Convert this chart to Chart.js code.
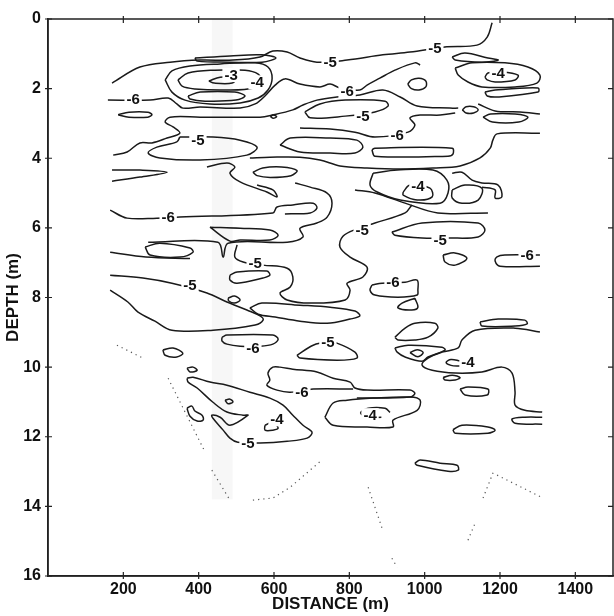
<!DOCTYPE html>
<html>
<head>
<meta charset="utf-8">
<script src="https://cdn.jsdelivr.net/npm/chart.js@4.4.1/dist/chart.umd.min.js"></script>
<style>
  html, body { margin: 0; padding: 0; background: #fff; }
  #wrap { width: 614px; height: 616px; }
</style>
</head>
<body>
<div id="wrap"><canvas id="contourCanvas" width="614" height="616"></canvas></div>
<script>
// axis ticks
const xTicks = [200, 400, 600, 800, 1000, 1200, 1400];
const yTicks = [0, 2, 4, 6, 8, 10, 12, 14, 16];

// contour lines, [distance m, depth m]
const c1 = [[170,1.84],[244,1.38],[324,1.24],[404,1.18],[491,1.18],[563,1.09],[597,0.92],[635,0.95],[669,1.12],[714,1.24],[794,1.18],[889,1.03],[961,0.95],[1059,0.80],[1139,0.75],[1166,0.52],[1179,0.11]];
const c2 = [[390,1.12],[483,1.06],[568,1.03],[605,1.12],[568,1.24],[483,1.24],[396,1.21],[390,1.12]];
const c3 = [[311,1.75],[329,1.49],[377,1.35],[457,1.29],[550,1.26],[584,1.38],[595,1.70],[584,2.04],[558,2.27],[510,2.41],[430,2.44],[364,2.33],[329,2.10],[311,1.75]];
const c4 = [[345,1.75],[372,1.55],[443,1.47],[523,1.47],[558,1.58],[566,1.78],[547,1.98],[470,2.04],[390,2.01],[356,1.93],[345,1.75]];
const c5 = [[427,1.78],[457,1.67],[499,1.70],[489,1.84],[441,1.84],[427,1.78]];
const c6 = [[372,2.21],[404,2.10],[496,2.10],[523,2.21],[499,2.33],[417,2.36],[377,2.30],[372,2.21]];
const c7 = [[159,2.33],[271,2.33],[319,2.27],[342,2.44],[358,2.56],[404,2.53],[510,2.56],[550,2.44],[576,2.21],[603,1.90],[629,1.72],[669,1.87],[722,1.95],[749,1.87],[775,1.98],[828,2.04],[847,1.90],[881,1.70],[921,1.47],[974,1.26],[988,1.32]];
const c8 = [[955,1.87],[965,1.75],[985,1.70],[1003,1.78],[1003,1.95],[985,2.04],[965,2.00],[955,1.87]];
const c9 = [[173,3.91],[210,3.82],[244,3.56],[276,3.56],[316,3.42],[350,3.28],[332,3.10],[311,2.96],[324,2.82],[404,2.82],[491,2.82],[563,2.82],[595,2.76],[650,2.61],[677,2.47],[714,2.33],[767,2.24],[828,2.18],[889,2.04],[935,2.24],[980,2.50],[1067,2.56],[1089,2.56]];
const c10 = [[1142,2.44],[1187,2.64],[1253,2.67],[1306,2.73]];
const c11 = [[1100,2.61],[1110,2.52],[1130,2.52],[1142,2.61],[1130,2.70],[1110,2.70],[1100,2.61]];
const c12 = [[1155,2.82],[1175,2.73],[1240,2.73],[1274,2.82],[1250,2.96],[1180,2.96],[1155,2.82]];
const c13 = [[186,2.75],[215,2.68],[265,2.68],[276,2.75],[265,2.82],[215,2.82],[186,2.75]];
const c14 = [[590,2.80],[598,2.76],[607,2.80],[598,2.85],[590,2.80]];
const c15 = [[350,3.39],[438,3.39],[510,3.48],[555,3.68],[528,3.91],[404,4.05],[297,3.99],[266,3.85],[289,3.68],[342,3.53],[350,3.39]];
const c16 = [[682,2.67],[722,2.44],[789,2.33],[895,2.36],[903,2.50],[868,2.67],[789,2.79],[696,2.84],[682,2.67]];
const c17 = [[669,3.13],[749,3.16],[815,3.25],[868,3.39],[956,3.25],[974,3.05],[961,2.84],[988,2.76],[1041,2.76],[1081,2.70]];
const c18 = [[616,3.62],[643,3.42],[749,3.42],[820,3.48],[836,3.68],[815,3.85],[749,3.85],[669,3.82],[616,3.62]];
const c19 = [[860,3.76],[868,3.71],[1073,3.71],[1075,3.88],[1062,3.94],[868,3.94],[860,3.76]];
const c20 = [[1306,3.28],[1192,3.30],[1181,3.48],[1174,3.71],[1147,3.99],[1094,4.22],[1022,4.28],[935,4.31],[847,4.28],[775,4.22],[722,4.05],[669,3.97],[589,3.97],[536,3.99]];
const c21 = [[170,4.34],[244,4.34],[316,4.40],[244,4.54],[170,4.66]];
const c22 = [[422,4.25],[475,4.14],[496,4.25],[483,4.43],[510,4.68],[581,4.97],[608,5.11],[597,4.91],[555,4.77]];
const c23 = [[544,4.40],[570,4.28],[620,4.25],[661,4.35],[645,4.50],[590,4.55],[555,4.50],[544,4.40]];
const c24 = [[165,5.49],[210,5.72],[289,5.72],[350,5.69],[597,5.57],[608,5.40],[650,5.34],[704,5.29],[714,5.43],[696,5.57],[629,5.60]];
const c25 = [[430,5.98],[510,6.01],[589,6.06],[611,6.21],[589,6.35],[510,6.35],[483,6.38],[430,5.98]];
const c26 = [[266,6.41],[451,6.41],[465,6.84],[478,6.44],[635,6.41],[677,6.26],[669,6.01],[714,5.86],[741,5.69],[754,5.29],[741,5.00],[696,4.83],[656,4.71]];
const c27 = [[258,6.55],[297,6.44],[377,6.58],[385,6.70],[350,6.84],[271,6.78],[258,6.55]];
const c28 = [[165,6.70],[260,6.84],[377,6.88]];
const c29 = [[502,6.49],[496,6.84],[518,6.98],[571,7.07],[635,7.16],[650,7.41],[643,7.70],[616,7.87],[635,8.07],[696,8.16],[789,8.07],[802,7.79],[794,7.59],[836,7.41],[847,7.13],[802,6.84],[775,6.55],[783,6.24],[820,6.03],[868,5.86],[948,5.57],[966,5.34]];
const c30 = [[863,4.43],[927,4.34],[1022,4.34],[1059,4.63],[1062,5.00],[1041,5.29],[935,5.20],[874,4.97],[855,4.77],[863,4.43]];
const c31 = [[943,4.97],[961,4.77],[1014,4.86],[1020,5.11],[980,5.20],[943,5.06],[943,4.97]];
const c32 = [[815,4.91],[868,5.00],[948,5.29],[1035,5.57],[1168,5.57]];
const c33 = [[1073,4.43],[1099,4.40],[1126,4.63],[1152,4.71],[1195,4.77],[1205,5.11],[1187,5.14],[1187,4.91],[1152,4.83]];
const c34 = [[1073,4.91],[1107,4.77],[1152,4.86],[1142,5.20],[1099,5.29],[1073,5.14],[1073,4.91]];
const c35 = [[913,6.12],[993,5.86],[1142,5.86],[1160,6.06],[1142,6.26],[1062,6.29],[993,6.29],[921,6.21],[913,6.12]];
const c36 = [[1049,6.78],[1080,6.72],[1112,6.87],[1081,7.07],[1054,6.98],[1049,6.78]];
const c37 = [[1306,6.78],[1213,6.78],[1192,6.83],[1187,6.95],[1200,7.10],[1306,7.10]];
const c38 = [[860,7.64],[887,7.59],[948,7.56],[980,7.50],[982,7.79],[980,7.93],[929,7.99],[868,7.93],[855,7.79],[860,7.64]];
const c39 = [[974,8.02],[982,8.28],[966,8.36],[929,8.30],[940,8.16],[974,8.02]];
const c40 = [[1147,8.70],[1195,8.62],[1266,8.65],[1272,8.76],[1240,8.82],[1152,8.82],[1147,8.70]];
const c41 = [[661,9.66],[704,9.37],[743,9.28],[767,9.31],[815,9.57],[820,9.74],[767,9.80],[669,9.74],[661,9.66]];
const c42 = [[921,9.14],[948,8.88],[974,8.74],[1027,8.74],[1035,8.88],[1009,9.14],[974,9.22],[929,9.22],[921,9.14]];
const c43 = [[921,9.45],[956,9.37],[1046,9.43],[1054,9.51],[1009,9.71],[993,9.83],[948,9.71],[927,9.57],[921,9.45]];
const c44 = [[961,9.58],[980,9.50],[996,9.58],[982,9.70],[961,9.58]];
const c45 = [[1306,8.99],[1240,8.88],[1134,8.94],[1099,9.22],[1089,9.45],[1046,9.57],[1009,9.74],[993,9.94],[1020,10.09],[1081,10.17],[1152,10.14],[1205,10.00],[1232,10.17],[1240,10.72],[1240,11.09],[1266,11.24],[1312,11.29]];
const c46 = [[1094,9.82],[1070,9.78],[1057,9.86],[1070,9.95],[1094,9.97]];
const c47 = [[1049,10.30],[1073,10.23],[1094,10.30],[1081,10.37],[1054,10.37],[1049,10.30]];
const c48 = [[1094,10.63],[1115,10.57],[1168,10.63],[1166,10.80],[1107,10.80],[1094,10.63]];
const c49 = [[1312,11.44],[1266,11.44],[1232,11.49],[1240,11.61],[1312,11.64]];
const c50 = [[1075,11.80],[1099,11.67],[1168,11.72],[1187,11.81],[1168,11.90],[1081,11.90],[1075,11.80]];
const c51 = [[810,10.63],[704,10.63],[643,10.72],[608,10.66],[581,10.52],[589,10.37],[584,10.17],[597,10.00],[616,10.00],[650,10.06],[714,10.14],[757,10.32],[802,10.43],[815,10.60],[847,10.66],[961,10.66],[974,10.75],[961,10.86],[820,10.89]];
const c52 = [[735,11.44],[757,11.03],[794,10.95],[863,10.89],[961,10.86],[988,10.95],[980,11.24],[916,11.52],[916,11.72],[847,11.72],[757,11.67],[735,11.44]];
const c53 = [[908,11.30],[895,11.18],[850,11.18],[830,11.32],[850,11.44],[885,11.44]];
const c54 = [[165,7.36],[252,7.44],[329,7.59],[422,7.87],[475,8.13],[528,8.36],[563,8.53],[571,8.65],[550,8.79],[438,8.94],[329,8.94],[284,8.68],[239,8.42],[212,8.13],[165,7.79]];
const c55 = [[478,8.02],[495,7.96],[510,8.07],[495,8.16],[480,8.10],[478,8.02]];
const c56 = [[483,7.36],[502,7.27],[581,7.24],[589,7.36],[571,7.44],[502,7.59],[483,7.50],[483,7.36]];
const c57 = [[536,8.30],[568,8.16],[669,8.22],[749,8.28],[815,8.39],[828,8.53],[802,8.62],[741,8.74],[669,8.68],[603,8.56],[558,8.48],[536,8.30]];
const c58 = [[462,9.14],[475,9.08],[597,9.08],[611,9.20],[597,9.34],[563,9.40],[510,9.40],[475,9.34],[462,9.25],[462,9.14]];
const c59 = [[305,9.51],[332,9.45],[358,9.60],[342,9.71],[311,9.66],[305,9.51]];
const c60 = [[369,10.03],[385,10.00],[396,10.09],[377,10.14],[369,10.03]];
const c61 = [[369,10.32],[385,10.29],[430,10.43],[475,10.52],[536,10.72],[589,10.89],[624,11.09],[650,11.38],[677,11.67],[701,11.87],[688,12.04],[635,12.13],[563,12.18],[504,12.16],[483,12.04],[465,11.81],[438,11.47],[435,11.38],[457,11.44],[483,11.67],[531,11.38],[518,11.38],[475,11.29],[438,11.01],[396,10.60],[372,10.43],[369,10.32]];
const c62 = [[470,10.95],[483,10.92],[491,11.00],[478,11.05],[470,10.95]];
const c63 = [[576,11.67],[597,11.58],[611,11.75],[597,11.81],[576,11.81],[576,11.67]];
const c64 = [[369,11.18],[382,11.12],[390,11.26],[409,11.38],[412,11.52],[396,11.55],[377,11.41],[369,11.18]];
const c65 = [[974,12.76],[988,12.67],[1041,12.76],[1086,12.82],[1089,12.96],[1062,12.99],[980,12.82],[974,12.76]];
const c66 = [[1081,1.41],[1126,1.26],[1213,1.26],[1274,1.38],[1306,1.61],[1298,1.84],[1240,1.95],[1152,1.95],[1115,1.81],[1089,1.61],[1081,1.41]];
const c67 = [[1160,1.67],[1168,1.55],[1205,1.52],[1248,1.61],[1240,1.75],[1187,1.81],[1166,1.75],[1160,1.67]];
const c68 = [[1073,1.09],[1107,0.98],[1168,1.12],[1195,1.18],[1152,1.24],[1081,1.18],[1073,1.09]];
const c69 = [[1160,2.10],[1187,2.04],[1301,1.98],[1301,2.10],[1195,2.24],[1166,2.21],[1160,2.10]];

// dotted edge of the survey
const d1 = [[183,9.37],[252,9.74]];
const d2 = [[319,10.32],[417,12.44]];
const d3 = [[435,12.96],[483,13.82]];
const d4 = [[544,13.82],[597,13.76],[643,13.45],[727,12.67]];
const d5 = [[850,13.45],[887,14.63]];
const d6 = [[913,15.49],[927,15.75]];
const d7 = [[1115,14.97],[1134,14.48]];
const d8 = [[1155,13.76],[1181,13.05],[1192,13.10],[1314,13.76]];

// contour level labels
const labelText = ['-5','-5','-3','-4','-4','-6','-6','-5','-5','-6','-4','-6','-5','-5','-5','-6','-5','-6','-6','-5','-4','-6','-4','-4','-5'];
const labelAt = [[749,1.24],[1027,0.83],[486,1.61],[555,1.82],[1195,1.55],[226,2.30],[794,2.07],[398,3.48],[836,2.79],[927,3.33],[982,4.80],[319,5.69],[550,7.01],[834,6.06],[1041,6.35],[1272,6.78],[377,7.64],[916,7.56],[544,9.45],[743,9.26],[1115,9.86],[674,10.72],[855,11.38],[608,11.50],[531,12.18]];

// faint scan strip
const stripRange = [435, 490];
const stripDepth = 13.8;

const contourLines = [c1,c2,c3,c4,c5,c6,c7,c8,c9,c10,c11,c12,c13,c14,c15,c16,c17,c18,c19,c20,
  c21,c22,c23,c24,c25,c26,c27,c28,c29,c30,c31,c32,c33,c34,c35,c36,c37,c38,c39,c40,
  c41,c42,c43,c44,c45,c46,c47,c48,c49,c50,c51,c52,c53,c54,c55,c56,c57,c58,c59,c60,
  c61,c62,c63,c64,c65,c66,c67,c68,c69];
const dottedLines = [d1,d2,d3,d4,d5,d6,d7,d8];

const toPts = arr => arr.map(([x, y]) => ({ x, y }));

const datasets = [];
contourLines.forEach(line => {
    datasets.push({
        data: toPts(line),
        showLine: true,
        pointRadius: 0,
        borderColor: '#1a1a1a',
        borderWidth: 1.5,
        tension: 0.35,
        fill: false
    });
});
dottedLines.forEach(line => {
    datasets.push({
        data: toPts(line),
        showLine: true,
        pointRadius: 0,
        borderColor: '#555',
        borderWidth: 1.2,
        borderDash: [1.2, 4],
        tension: 0,
        fill: false
    });
});

const axisFont = { family: 'Liberation Sans, Arial, sans-serif', size: 16, weight: 'bold' };
const titleFont = { family: 'Liberation Sans, Arial, sans-serif', size: 17, weight: 'bold' };

const framePlugin = {
    id: 'framePlugin',
    beforeDatasetsDraw(chart) {
        const { ctx, scales: { x, y } } = chart;
        ctx.save();
        ctx.fillStyle = '#f7f7f7';
        const x0 = x.getPixelForValue(stripRange[0]);
        const x1 = x.getPixelForValue(stripRange[1]);
        const y0 = y.getPixelForValue(0);
        const y1 = y.getPixelForValue(stripDepth);
        ctx.fillRect(x0, y0, x1 - x0, y1 - y0);
        ctx.restore();
    },
    afterDatasetsDraw(chart) {
        const { ctx, scales: { x, y } } = chart;
        ctx.save();
        ctx.font = 'bold 15px "Liberation Sans", Arial, sans-serif';
        ctx.textAlign = 'center';
        ctx.textBaseline = 'middle';
        labelText.forEach((t, i) => {
            const px = x.getPixelForValue(labelAt[i][0]);
            const py = y.getPixelForValue(labelAt[i][1]);
            const w = ctx.measureText(t).width;
            ctx.fillStyle = '#fff';
            ctx.fillRect(px - w / 2 - 2, py - 7, w + 4, 14);
            ctx.fillStyle = '#111';
            ctx.fillText(t, px, py + 1);
        });
        ctx.restore();
    },
    afterDraw(chart) {
        const { ctx, chartArea: a, scales: { x, y } } = chart;
        ctx.save();
        ctx.strokeStyle = '#222';
        ctx.lineWidth = 1.5;
        ctx.strokeRect(a.left, a.top, a.right - a.left, a.bottom - a.top);
        ctx.lineWidth = 1.2;
        ctx.beginPath();
        xTicks.forEach(v => {
            const px = x.getPixelForValue(v);
            ctx.moveTo(px, a.bottom - 4); ctx.lineTo(px, a.bottom + 3);
            ctx.moveTo(px, a.top - 3); ctx.lineTo(px, a.top + 4);
        });
        yTicks.forEach(v => {
            const py = y.getPixelForValue(v);
            ctx.moveTo(a.left - 3, py); ctx.lineTo(a.left + 4, py);
            ctx.moveTo(a.right - 5, py); ctx.lineTo(a.right, py);
        });
        ctx.stroke();
        ctx.restore();
    }
};

new Chart(document.getElementById('contourCanvas').getContext('2d'), {
    type: 'scatter',
    data: { datasets },
    options: {
        responsive: false,
        animation: false,
        layout: { padding: { top: 19, right: 1, left: 0, bottom: 0 } },
        plugins: { legend: { display: false }, tooltip: { enabled: false } },
        scales: {
            x: {
                type: 'linear',
                min: 0,
                max: 1500,
                afterBuildTicks: s => { s.ticks = xTicks.map(v => ({ value: v })); },
                afterFit: s => { s.height = 40; },
                grid: { display: false, drawTicks: false },
                border: { display: true, color: '#222', width: 1.5 },
                ticks: { font: axisFont, color: '#111', padding: 4, maxRotation: 0, callback: v => String(v) },
                title: { display: true, text: 'DISTANCE (m)', font: titleFont, color: '#111', padding: { top: 0, bottom: 1 } }
            },
            y: {
                type: 'linear',
                reverse: true,
                min: 0,
                max: 16,
                afterBuildTicks: s => { s.ticks = yTicks.map(v => ({ value: v })); },
                afterFit: s => { s.width = 48; },
                grid: { display: false, drawTicks: false },
                border: { display: true, color: '#222', width: 1.5 },
                ticks: { font: axisFont, color: '#111', padding: 7, callback: v => String(v) },
                title: { display: true, text: 'DEPTH (m)', font: titleFont, color: '#111', padding: { top: 3, bottom: 0 } }
            }
        }
    },
    plugins: [framePlugin]
});
</script>
</body>
</html>
